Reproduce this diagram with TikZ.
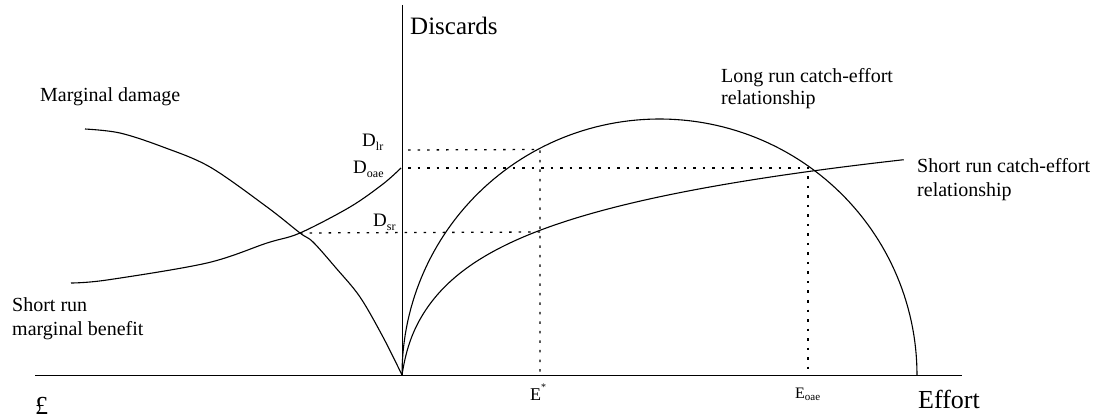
\documentclass[tikz,border=0pt]{standalone}
\usepackage{fontspec}
\setmainfont{Liberation Serif}
\newcommand{\fs}[1]{\fontsize{#1}{#1}\selectfont}
\newcommand{\lowsub}[1]{\raisebox{-0.35ex}{\fs{12}#1}}
\tikzset{
  curve/.style={line width=1.1pt, smooth, tension=0.55},
  guide/.style={line width=1.3pt, dash pattern=on 2.5pt off 7pt},
  axis/.style={line width=1pt},
  lbl/.style={anchor=base west, inner sep=0pt, font=\fs{20}},
  big/.style={anchor=base west, inner sep=0pt, font=\fs{25}},
}
\begin{document}
\begin{tikzpicture}[x=1pt,y=-1pt]
\useasboundingbox (0,0) rectangle (1099,419);
% axes
\coordinate (O) at (402,375);
\coordinate (ytop) at (402,5);
\coordinate (xl) at (35,375);
\coordinate (xr) at (962,375);
\draw[axis] (ytop) -- (O);
\draw[axis] (xl) -- (xr);
% key points
\coordinate (Plr) at (540,149.5);
\coordinate (Psr) at (540,232);
\coordinate (Poae) at (808,168);
\coordinate (Pmd) at (300,233);
\coordinate (Aoae) at (408,168);
\coordinate (Alr) at (408,150);
\coordinate (Estar) at (540,375);
\coordinate (Eoae) at (808,375);
% guides
\draw[guide] (Alr) -- (Plr) -- (Estar);
\draw[guide] (Aoae) -- (Poae) -- (Eoae);
\draw[guide] (Pmd) -- (Psr);
% long run catch-effort (semicircle)
\draw[line width=1.1pt] plot[domain=180:360, samples=120] ({659.5+257.5*cos(\x)},{375+256*sin(\x)});
% short run catch-effort
\draw[line width=1.1pt] plot[domain=0:22.4, samples=160]
  ({402+\x*\x},{375-(58*ln(1+\x*\x/15)+10*(1-exp(-\x*\x/4)))});
% marginal damage
\draw[curve] plot coordinates {(85,129) (120,133) (163,147) (210,167) (267,207) (300,233) (313,242) (336,268) (360,297) (383,337) (402,375)};
% short run marginal benefit
\draw[curve] plot coordinates {(71,283) (107,280) (207,263) (267,243) (300,233) (350,207) (383,184) (401,168)};
% labels
\node[big] (discards) at (410,35) {Discards};
\node[big, font=\fs{26}] (effort) at (918,408) {Effort};
\node[big, font=\fs{26}] (pound) at (35,414) {£};
\node[lbl] (md) at (40,102) {Marginal damage};
\node[lbl] (mb1) at (12,311) {Short run};
\node[lbl] (mb2) at (12,335) {marginal benefit};
\node[lbl] (lr1) at (721,83) {Long run catch-effort};
\node[lbl] (lr2) at (721,105) {relationship};
\node[lbl] (sr1) at (917,173) {Short run catch-effort};
\node[lbl] (sr2) at (917,197) {relationship};
\node[lbl, font=\fs{19}] (dlr) at (362,147) {D\lowsub{lr}};
\node[lbl, font=\fs{19}] (doae) at (353,174) {D\lowsub{oae}};
\node[lbl, font=\fs{19}] (dsr) at (373,227) {D\lowsub{sr}};
\node[lbl, font=\fs{18}] (es) at (530,400) {E\raisebox{1.1ex}{\fs{10}*}};
\node[lbl, font=\fs{16}] (eo) at (795,398) {E\lowsub{\fs{11}oae}};
\end{tikzpicture}
\end{document}
